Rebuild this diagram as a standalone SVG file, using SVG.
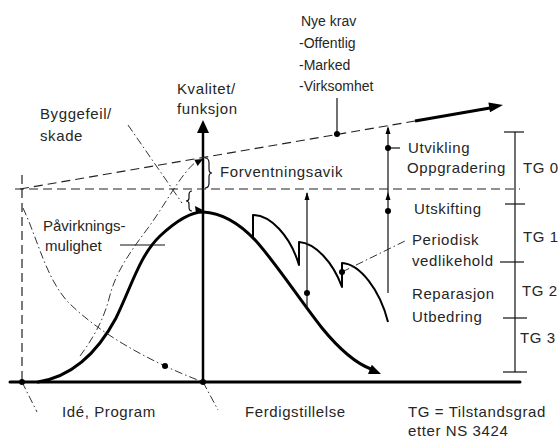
<svg xmlns="http://www.w3.org/2000/svg" width="560" height="439" viewBox="0 0 560 439">
  <style>
    text { font-family: "Liberation Sans", "DejaVu Sans", sans-serif; font-size: 15px; fill: #262626; letter-spacing: 0.6px; }
    .small { font-size: 14px; letter-spacing: 0; }
    .tight { letter-spacing: 0; }
    .thick { fill: none; stroke: #000; stroke-width: 3; stroke-linecap: round; stroke-linejoin: round; }
    .mid { fill: none; stroke: #000; stroke-width: 2; stroke-linejoin: round; }
    .thin { fill: none; stroke: #111; stroke-width: 1.2; }
    .dash { fill: none; stroke: #222; stroke-width: 1.2; stroke-dasharray: 9 5; }
    .dashdot { fill: none; stroke: #333; stroke-width: 1; stroke-dasharray: 8 3 1.5 3; }
    .dot { fill: #000; }
  </style>

  <rect width="560" height="439" fill="#fff"/>

  <g id="connectors">
    <!-- time axis -->
    <line class="thick" x1="10" y1="382" x2="520" y2="382"/>
    <!-- quality axis -->
    <line x1="203" y1="382" x2="203" y2="132" stroke="#000" stroke-width="2.5"/>
    <polygon class="dot" points="203,120 197,133 209,133"/>

    <!-- reference level and start line -->
    <line class="dash" x1="15" y1="189" x2="520" y2="189"/>
    <line class="dash" x1="22" y1="175" x2="22" y2="382" stroke-dasharray="8 5"/>

    <!-- rising expectation line -->
    <line class="dash" x1="20" y1="189" x2="415" y2="121"/>
    <line x1="415" y1="121" x2="490" y2="108" stroke="#000" stroke-width="3"/>
    <polygon class="dot" points="503,105 490,112.3 488.4,102.5"/>

    <!-- main quality curve -->
    <path class="thick" d="M38,382 C75,376 100,348 116,318 C132,285 140,255 160,236 C175,222 190,212 203,212"/>
    <path class="thick" d="M203,212 C225,213 242,226 256,241 C275,262 300,300 322,328 C340,350 355,363 371,369"/>
    <polygon class="dot" points="381,374 368,374 371.8,364.8"/>

    <!-- maintained curve (saw tooth) -->
    <path class="mid" d="M253,237 L253,215 C270,215 290,235 299,265 L299,242 C315,243 333,262 342,287 L342,263 C360,264 380,290 388,322"/>

    <!-- projected curve reaching expectation -->
    <path class="dashdot" d="M80,356 C92,340 104,320 110,295 C116,272 130,252 148,228 C165,205 182,172 196,162"/>
    <polygon class="dot" points="203,159 194.3,159.7 197.7,165.9"/>

    <!-- influence possibility curve -->
    <path class="dashdot" d="M23,208 C38,240 46,278 68,302 C100,334 150,362 203,382"/>

    <!-- label leaders -->
    <line class="dashdot" x1="22" y1="382" x2="37" y2="412"/>
    <line class="dashdot" x1="203" y1="382" x2="218" y2="410"/>
    <line class="dashdot" x1="128" y1="125" x2="182" y2="203"/>
    <line class="dashdot" x1="342" y1="272" x2="407" y2="240"/>
    <line class="thin" x1="120" y1="245" x2="165" y2="245"/>
    <line class="thin" x1="337" y1="98" x2="337" y2="134"/>

    <!-- braces -->
    <path class="thin" d="M205,158 Q209,158 209,163 L209,169 Q209,173 212,173 Q209,173 209,177 L209,183 Q209,188 205,188"/>
    <path class="thin" d="M192,191 Q189,191 189,195 L189,198 Q189,201 186,201 Q189,201 189,204 L189,207 Q189,211 192,211"/>
    <polygon class="dot" points="203,210 195,206 196,213.5"/>

    <!-- measure lines -->
    <line class="thin" x1="307" y1="193" x2="307" y2="308" stroke-width="1.5"/>
    <polygon class="dot" points="307,192 304.5,200 309.5,200"/>
    <line class="thin" x1="388" y1="128" x2="388" y2="293" stroke-width="1.5"/>
    <polygon class="dot" points="388,126 385.5,134 390.5,134"/>
    <polygon class="dot" points="388,192 385.5,200 390.5,200"/>
    <line class="thin" x1="388" y1="148" x2="400" y2="148"/>

    <!-- condition grade scale -->
    <line class="thin" x1="515" y1="132" x2="515" y2="372"/>
    <line class="thin" x1="504" y1="132" x2="524" y2="132"/>
    <line class="thin" x1="505" y1="204" x2="525" y2="204"/>
    <line class="thin" x1="500" y1="262" x2="524" y2="262"/>
    <line class="thin" x1="503" y1="318" x2="527" y2="318"/>
    <line class="thin" x1="503" y1="372" x2="527" y2="372"/>

    <!-- points -->
    <circle class="dot" cx="22" cy="382" r="3"/>
    <circle class="dot" cx="203" cy="382" r="3"/>
    <circle class="dot" cx="165" cy="366" r="3"/>
    <circle class="dot" cx="337" cy="134" r="3"/>
    <circle class="dot" cx="388" cy="148" r="3"/>
    <circle class="dot" cx="388" cy="211" r="3"/>
    <circle class="dot" cx="307" cy="293" r="3"/>
    <circle class="dot" cx="342" cy="272" r="3"/>
  </g>

  <g id="nye-krav">
    <text x="301" y="26" class="small">Nye krav</text>
    <text x="299" y="48" class="small">-Offentlig</text>
    <text x="299" y="70" class="small">-Marked</text>
    <text x="299" y="91" class="small">-Virksomhet</text>
  </g>
  <g id="kvalitet">
    <text x="177" y="94">Kvalitet/</text>
    <text x="177" y="114">funksjon</text>
  </g>
  <g id="byggefeil">
    <text x="40" y="119">Byggefeil/</text>
    <text x="40" y="141">skade</text>
  </g>
  <g id="forventningsavik">
    <text x="220" y="177">Forventningsavik</text>
  </g>
  <g id="pavirkning">
    <text x="43" y="231" class="tight">Påvirknings-</text>
    <text x="45" y="251" class="tight">mulighet</text>
  </g>
  <g id="utvikling">
    <text x="408" y="153">Utvikling</text>
    <text x="407" y="173">Oppgradering</text>
  </g>
  <g id="utskifting">
    <text x="414" y="214">Utskifting</text>
  </g>
  <g id="periodisk">
    <text x="412" y="245">Periodisk</text>
    <text x="412" y="266">vedlikehold</text>
  </g>
  <g id="reparasjon">
    <text x="412" y="299">Reparasjon</text>
    <text x="412" y="322">Utbedring</text>
  </g>
  <g id="tg-scale">
    <text x="523" y="173">TG 0</text>
    <text x="523" y="242">TG 1</text>
    <text x="522" y="296">TG 2</text>
    <text x="520" y="343">TG 3</text>
  </g>
  <g id="ide-program">
    <text x="62" y="417">Idé, Program</text>
  </g>
  <g id="ferdigstillelse">
    <text x="245" y="417">Ferdigstillelse</text>
  </g>
  <g id="tg-note">
    <text x="408" y="417">TG = Tilstandsgrad</text>
    <text x="408" y="436">etter NS 3424</text>
  </g>
</svg>
